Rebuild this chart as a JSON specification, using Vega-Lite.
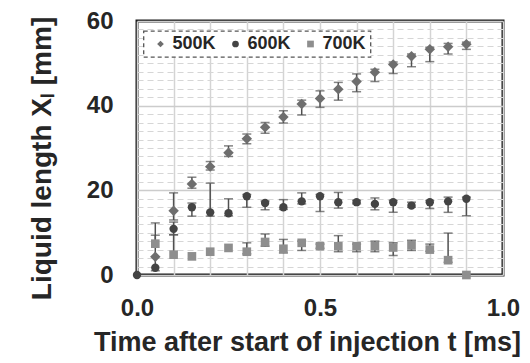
{
  "$schema": "https://vega.github.io/schema/vega-lite/v6.json",
  "width": 366,
  "height": 254,
  "autosize": "none",
  "padding": {"left": 137, "top": 21, "right": 27, "bottom": 88},
  "background": "white",
  "config": {
    "view": {"stroke": "#1a1a1a", "strokeWidth": 3},
    "font": "Liberation Sans",
    "legend": {"strokeDash": [4, 3], "strokeWidth": 1.3}
  },
  "data": {
    "values": [
      {"series": "600K", "t": 0, "y": 0, "lo": 0, "hi": 0},
      {"series": "500K", "t": 0.05, "y": 4.3, "lo": 4.3, "hi": 4.3},
      {"series": "600K", "t": 0.05, "y": 1.7, "lo": 1.0, "hi": 9.4},
      {"series": "700K", "t": 0.05, "y": 7.4, "lo": 7.4, "hi": 12.3},
      {"series": "500K", "t": 0.1, "y": 15.2, "lo": 13.0, "hi": 19.4},
      {"series": "600K", "t": 0.1, "y": 10.9, "lo": 9.5, "hi": 12.5},
      {"series": "700K", "t": 0.1, "y": 4.8, "lo": 4.8, "hi": 9.5},
      {"series": "500K", "t": 0.15, "y": 21.5, "lo": 20.5, "hi": 23.1},
      {"series": "600K", "t": 0.15, "y": 16.0, "lo": 13.9, "hi": 17.0},
      {"series": "700K", "t": 0.15, "y": 4.4, "lo": 4.4, "hi": 4.4},
      {"series": "500K", "t": 0.2, "y": 25.6, "lo": 24.8, "hi": 26.8},
      {"series": "600K", "t": 0.2, "y": 14.8, "lo": 13.9, "hi": 21.7},
      {"series": "700K", "t": 0.2, "y": 5.5, "lo": 5.5, "hi": 5.5},
      {"series": "500K", "t": 0.25, "y": 28.9, "lo": 28.0, "hi": 30.5},
      {"series": "600K", "t": 0.25, "y": 14.6, "lo": 14.0, "hi": 18.0},
      {"series": "700K", "t": 0.25, "y": 6.4, "lo": 6.4, "hi": 6.4},
      {"series": "500K", "t": 0.3, "y": 32.2, "lo": 31.0, "hi": 33.3},
      {"series": "600K", "t": 0.3, "y": 18.6, "lo": 16.0, "hi": 19.0},
      {"series": "700K", "t": 0.3, "y": 5.5, "lo": 5.0, "hi": 7.6},
      {"series": "500K", "t": 0.35, "y": 34.9, "lo": 33.5, "hi": 36.0},
      {"series": "600K", "t": 0.35, "y": 17.0, "lo": 15.4, "hi": 17.5},
      {"series": "700K", "t": 0.35, "y": 7.8, "lo": 6.8, "hi": 9.7},
      {"series": "500K", "t": 0.4, "y": 37.3, "lo": 35.9, "hi": 38.8},
      {"series": "600K", "t": 0.4, "y": 16.0, "lo": 15.5, "hi": 17.8},
      {"series": "700K", "t": 0.4, "y": 6.2, "lo": 5.2, "hi": 8.4},
      {"series": "500K", "t": 0.45, "y": 40.4, "lo": 37.8, "hi": 41.3},
      {"series": "600K", "t": 0.45, "y": 17.4, "lo": 16.8, "hi": 19.4},
      {"series": "700K", "t": 0.45, "y": 7.6, "lo": 5.8, "hi": 8.0},
      {"series": "500K", "t": 0.5, "y": 41.7, "lo": 39.6, "hi": 43.5},
      {"series": "600K", "t": 0.5, "y": 18.6, "lo": 15.0, "hi": 19.0},
      {"series": "700K", "t": 0.5, "y": 6.8, "lo": 6.3, "hi": 7.3},
      {"series": "500K", "t": 0.55, "y": 43.9, "lo": 41.3, "hi": 45.5},
      {"series": "600K", "t": 0.55, "y": 17.2, "lo": 15.8, "hi": 19.5},
      {"series": "700K", "t": 0.55, "y": 6.8, "lo": 5.5, "hi": 9.3},
      {"series": "500K", "t": 0.6, "y": 45.7, "lo": 43.3, "hi": 47.5},
      {"series": "600K", "t": 0.6, "y": 17.2, "lo": 16.8, "hi": 17.6},
      {"series": "700K", "t": 0.6, "y": 6.8, "lo": 5.5, "hi": 7.3},
      {"series": "500K", "t": 0.65, "y": 47.9, "lo": 45.7, "hi": 48.6},
      {"series": "600K", "t": 0.65, "y": 16.8, "lo": 15.4, "hi": 18.2},
      {"series": "700K", "t": 0.65, "y": 6.8, "lo": 5.5, "hi": 8.0},
      {"series": "500K", "t": 0.7, "y": 49.7, "lo": 47.6, "hi": 50.3},
      {"series": "600K", "t": 0.7, "y": 17.2, "lo": 14.8, "hi": 17.6},
      {"series": "700K", "t": 0.7, "y": 6.5, "lo": 4.6, "hi": 7.6},
      {"series": "500K", "t": 0.75, "y": 51.7, "lo": 49.2, "hi": 52.2},
      {"series": "600K", "t": 0.75, "y": 16.4, "lo": 16.0, "hi": 17.2},
      {"series": "700K", "t": 0.75, "y": 7.0, "lo": 5.8, "hi": 8.2},
      {"series": "500K", "t": 0.8, "y": 53.3, "lo": 50.4, "hi": 53.8},
      {"series": "600K", "t": 0.8, "y": 17.2, "lo": 15.7, "hi": 17.6},
      {"series": "700K", "t": 0.8, "y": 6.0, "lo": 5.6, "hi": 7.3},
      {"series": "500K", "t": 0.85, "y": 53.9, "lo": 52.2, "hi": 54.7},
      {"series": "600K", "t": 0.85, "y": 17.4, "lo": 14.8, "hi": 18.4},
      {"series": "700K", "t": 0.85, "y": 3.5, "lo": 3.0, "hi": 9.9},
      {"series": "500K", "t": 0.9, "y": 54.5, "lo": 53.3, "hi": 55.0},
      {"series": "600K", "t": 0.9, "y": 18.0, "lo": 14.0, "hi": 18.4},
      {"series": "700K", "t": 0.9, "y": 0, "lo": 0, "hi": 0}
    ]
  },
  "encoding": {
    "x": {
      "field": "t",
      "type": "quantitative",
      "scale": {"domain": [0, 1], "nice": false, "zero": false},
      "axis": {
        "title": "Time after start of injection t [ms]",
        "values": [0, 0.1, 0.2, 0.3, 0.4, 0.5, 0.6, 0.7, 0.8, 0.9, 1],
        "tickCount": 100,
        "labelExpr": "datum.value === 0 || datum.value === 0.5 || datum.value === 1 ? format(datum.value, '.1f') : ''",
        "labelOverlap": false,
        "labelFlush": false,
        "domain": false,
        "ticks": false,
        "grid": true,
        "gridColor": "#d4d4d4",
        "gridWidth": 1.5,
        "labelFont": "Liberation Sans",
        "labelFontWeight": "bold",
        "labelFontSize": 24,
        "labelColor": "#262626",
        "labelPadding": 21,
        "titleFont": "Liberation Sans",
        "titleFontWeight": "bold",
        "titleFontSize": 27,
        "titleColor": "#262626",
        "titlePadding": 9,
        "titleX": 170
      }
    }
  },
  "layer": [
    {
      "mark": {"type": "rule", "color": "#505050", "strokeWidth": 1.5},
      "encoding": {
        "y": {
          "field": "lo",
          "type": "quantitative",
          "scale": {"domain": [0, 60], "nice": false, "zero": true},
          "title": "Liquid length Xₗ [mm]",
          "axis": {
            "values": [0, 2, 4, 6, 8, 10, 12, 14, 16, 18, 20, 22, 24, 26, 28, 30, 32, 34, 36, 38, 40, 42, 44, 46, 48, 50, 52, 54, 56, 58, 60],
            "tickCount": 100,
            "labelExpr": "datum.value % 20 === 0 ? format(datum.value, 'd') : ''",
            "labelOverlap": false,
            "labelFlush": false,
            "domain": false,
            "ticks": false,
            "grid": true,
            "gridColor": {"condition": {"test": "datum.value % 20 === 0", "value": "#cccccc"}, "value": "#d6d6d6"},
            "gridWidth": {"condition": {"test": "datum.value % 20 === 0", "value": 1.5}, "value": 1.2},
            "gridDash": {"condition": {"test": "datum.value % 20 === 0", "value": []}, "value": [6, 4]},
            "labelFont": "Liberation Sans",
            "labelFontWeight": "bold",
            "labelFontSize": 24,
            "labelColor": "#262626",
            "labelPadding": 24,
            "titleFont": "Liberation Sans",
            "titleFontWeight": "bold",
            "titleFontSize": 28,
            "titleColor": "#262626",
            "titlePadding": 30,
            "titleY": 137
          }
        },
        "y2": {"field": "hi"}
      }
    },
    {
      "transform": [{"filter": "datum.hi > datum.y"}],
      "mark": {"type": "tick", "orient": "horizontal", "color": "#505050", "size": 9, "thickness": 1.5},
      "encoding": {
        "y": {"field": "hi", "type": "quantitative", "title": "Liquid length Xₗ [mm]"}
      }
    },
    {
      "transform": [{"filter": "datum.lo < datum.y"}],
      "mark": {"type": "tick", "orient": "horizontal", "color": "#505050", "size": 9, "thickness": 1.5},
      "encoding": {
        "y": {"field": "lo", "type": "quantitative", "title": "Liquid length Xₗ [mm]"}
      }
    },
    {
      "transform": [{"filter": "datum.series === '500K'"}],
      "mark": {"type": "point", "filled": true, "opacity": 1, "size": 110},
      "encoding": {
        "y": {"field": "y", "type": "quantitative", "title": "Liquid length Xₗ [mm]"},
        "color": {
          "field": "series", "type": "nominal",
          "scale": {"domain": ["500K", "600K", "700K"], "range": ["#6e6e6e", "#444444", "#8e8e8e"]},
          "legend": {
            "orient": "none", "legendX": 6.5, "legendY": 10, "direction": "horizontal", "title": null,
            "fillColor": "white", "strokeColor": "#555555", "padding": 4, "symbolOffset": 4,
            "labelFont": "Liberation Sans", "labelFontWeight": "bold", "labelFontSize": 18, "labelColor": "#262626",
            "symbolSize": 45, "symbolStrokeWidth": 0, "columnPadding": 6, "labelOffset": 3
          }
        },
        "shape": {
          "field": "series", "type": "nominal",
          "scale": {"domain": ["500K", "600K", "700K"], "range": ["diamond", "circle", "square"]}
        }
      }
    },
    {
      "transform": [{"filter": "datum.series === '600K'"}],
      "mark": {"type": "point", "filled": true, "opacity": 1, "size": 70},
      "encoding": {
        "y": {"field": "y", "type": "quantitative", "title": "Liquid length Xₗ [mm]"},
        "color": {"field": "series", "type": "nominal"},
        "shape": {"field": "series", "type": "nominal"}
      }
    },
    {
      "transform": [{"filter": "datum.series === '700K'"}],
      "mark": {"type": "point", "filled": true, "opacity": 1, "size": 75},
      "encoding": {
        "y": {"field": "y", "type": "quantitative", "title": "Liquid length Xₗ [mm]"},
        "color": {"field": "series", "type": "nominal"},
        "shape": {"field": "series", "type": "nominal"}
      }
    }
  ]
}
